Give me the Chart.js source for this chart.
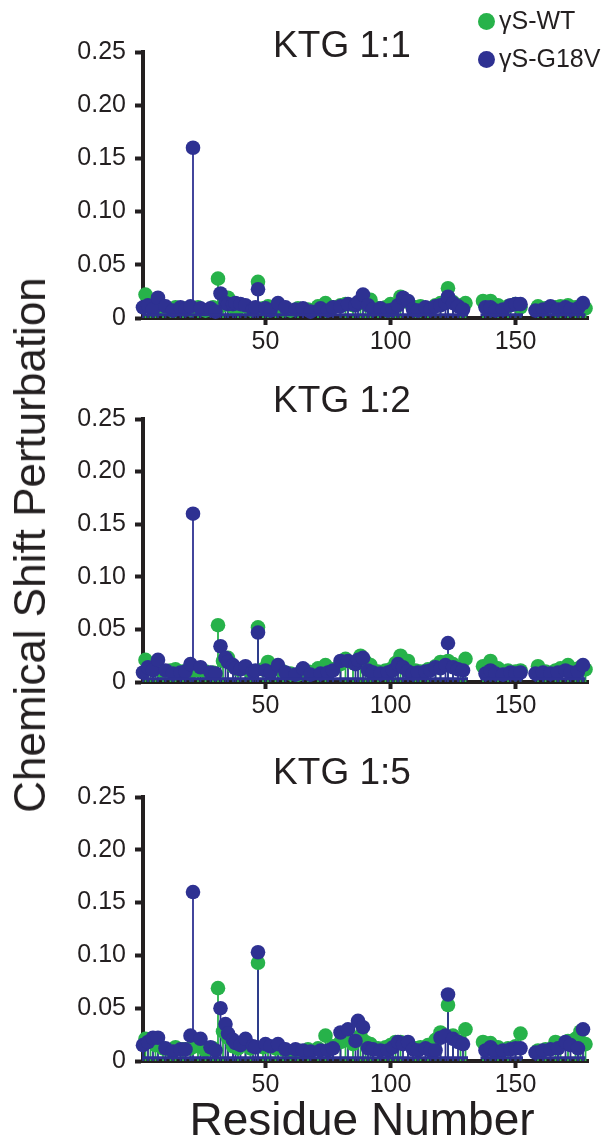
<!DOCTYPE html>
<html>
<head>
<meta charset="utf-8">
<script src="https://cdn.jsdelivr.net/npm/chart.js@4.4.1/dist/chart.umd.min.js"></script>
<style>
    body { margin: 0; background: #fff; width: 615px; height: 1145px; position: relative; overflow: hidden;
           font-family: "Liberation Sans", Arial, sans-serif; color: #231f20; }
    canvas { position: absolute; left: 0; }
    .panel-title { position: absolute; left: 222px; width: 240px; text-align: center; font-size: 37px; line-height: 37px; }
    .legend { position: absolute; left: 478px; font-size: 25px; line-height: 25px; white-space: nowrap; }
    .legend span { display: inline-block; width: 17px; height: 17px; border-radius: 50%; margin-right: 4px; vertical-align: -1px; }
    #ytitle { position: absolute; left: 30px; top: 545px; transform: translate(-50%, -50%) rotate(-90deg);
              font-size: 44px; white-space: nowrap; }
    #xtitle { position: absolute; left: 362px; top: 1119px; transform: translate(-50%, -50%);
              font-size: 46px; white-space: nowrap; }
</style>
</head>
<body>
<canvas id="plot1"></canvas>
<canvas id="plot2"></canvas>
<canvas id="plot3"></canvas>
<div class="panel-title" id="title1" style="top:26px"></div>
<div class="panel-title" id="title2" style="top:381px"></div>
<div class="panel-title" id="title3" style="top:753px"></div>
<div class="legend" style="top:8px"><span style="background:#27b24a"></span>γS-WT</div>
<div class="legend" style="top:46px"><span style="background:#2e3192"></span>γS-G18V</div>
<div id="ytitle">Chemical Shift Perturbation</div>
<div id="xtitle">Residue Number</div>

<script>
// assigned residues for each protein (same for every titration point)
var residuesWT = [2, 4, 6, 9, 12, 14, 17, 20, 23, 26, 29, 31, 33, 35, 37, 39, 42, 44, 47, 49,
    51, 54, 57, 60, 63, 67, 71, 74, 77, 80, 82, 85, 88, 90, 92, 95, 98, 100, 102, 104,
    107, 110, 112, 115, 118, 120, 123, 125, 128, 130, 137, 140, 143, 147, 150, 152, 159, 162, 166, 168,
    171, 174, 176, 178];
var residuesG18V = [1, 3, 5, 7, 10, 13, 16, 18, 20, 21, 24, 28, 30, 32, 34, 35, 37, 38, 40, 42,
    45, 46, 47, 50, 52, 55, 58, 62, 65, 68, 72, 75, 77, 80, 83, 86, 87, 89, 91, 93,
    96, 99, 101, 103, 105, 107, 109, 111, 114, 116, 118, 120, 122, 123, 125, 127, 129, 138, 140, 142,
    145, 148, 150, 152, 158, 161, 164, 167, 170, 172, 175, 177];

// KTG 1:1
var wt11 = [0.022, 0.012, 0.009, 0.010, 0.008, 0.010, 0.009, 0.008, 0.010, 0.007, 0.010, 0.037, 0.012, 0.019, 0.010, 0.009, 0.011, 0.008, 0.034, 0.009,
    0.011, 0.010, 0.008, 0.007, 0.009, 0.008, 0.011, 0.014, 0.010, 0.012, 0.013, 0.012, 0.015, 0.013, 0.017, 0.009, 0.010, 0.013, 0.012, 0.020,
    0.015, 0.010, 0.011, 0.009, 0.012, 0.014, 0.028, 0.015, 0.012, 0.014, 0.016, 0.016, 0.012, 0.011, 0.013, 0.010, 0.011, 0.009, 0.010, 0.011,
    0.012, 0.010, 0.011, 0.009];
var g18v11 = [0.010, 0.012, 0.008, 0.019, 0.011, 0.007, 0.010, 0.008, 0.011, 0.160, 0.009, 0.009, 0.006, 0.023, 0.014, 0.013, 0.013, 0.014, 0.013, 0.012,
    0.008, 0.010, 0.027, 0.009, 0.007, 0.014, 0.010, 0.008, 0.009, 0.006, 0.009, 0.007, 0.010, 0.011, 0.013, 0.012, 0.015, 0.022, 0.012, 0.008,
    0.009, 0.007, 0.008, 0.012, 0.019, 0.016, 0.008, 0.007, 0.010, 0.008, 0.011, 0.012, 0.014, 0.020, 0.014, 0.011, 0.008, 0.010, 0.010, 0.007,
    0.008, 0.012, 0.013, 0.013, 0.007, 0.008, 0.011, 0.008, 0.010, 0.008, 0.009, 0.014];

// KTG 1:2
var wt12 = [0.021, 0.016, 0.012, 0.010, 0.011, 0.012, 0.010, 0.009, 0.011, 0.010, 0.009, 0.054, 0.020, 0.023, 0.015, 0.012, 0.013, 0.010, 0.052, 0.012,
    0.019, 0.013, 0.010, 0.008, 0.007, 0.010, 0.013, 0.016, 0.012, 0.017, 0.022, 0.018, 0.025, 0.019, 0.016, 0.010, 0.011, 0.012, 0.018, 0.025,
    0.020, 0.011, 0.010, 0.012, 0.015, 0.019, 0.020, 0.017, 0.013, 0.022, 0.015, 0.020, 0.013, 0.011, 0.010, 0.011, 0.015, 0.010, 0.011, 0.013,
    0.016, 0.012, 0.014, 0.012];
var g18v12 = [0.009, 0.014, 0.011, 0.021, 0.011, 0.008, 0.009, 0.010, 0.017, 0.160, 0.014, 0.009, 0.008, 0.034, 0.023, 0.019, 0.016, 0.013, 0.012, 0.015,
    0.010, 0.011, 0.047, 0.011, 0.009, 0.016, 0.009, 0.007, 0.013, 0.007, 0.008, 0.009, 0.011, 0.020, 0.020, 0.017, 0.021, 0.023, 0.011, 0.009,
    0.008, 0.009, 0.011, 0.017, 0.014, 0.010, 0.008, 0.009, 0.010, 0.011, 0.014, 0.013, 0.016, 0.037, 0.014, 0.012, 0.011, 0.008, 0.011, 0.008,
    0.007, 0.009, 0.008, 0.009, 0.008, 0.009, 0.008, 0.009, 0.011, 0.009, 0.010, 0.016];

// KTG 1:5
var wt15 = [0.021, 0.018, 0.015, 0.012, 0.010, 0.013, 0.011, 0.012, 0.014, 0.010, 0.012, 0.069, 0.028, 0.022, 0.014, 0.012, 0.015, 0.012, 0.093, 0.013,
    0.014, 0.012, 0.011, 0.009, 0.010, 0.011, 0.012, 0.024, 0.014, 0.018, 0.020, 0.016, 0.024, 0.018, 0.016, 0.012, 0.013, 0.015, 0.018, 0.018,
    0.017, 0.012, 0.013, 0.015, 0.020, 0.027, 0.053, 0.024, 0.018, 0.030, 0.018, 0.017, 0.013, 0.012, 0.014, 0.026, 0.010, 0.011, 0.018, 0.016,
    0.019, 0.021, 0.028, 0.016];
var g18v15 = [0.015, 0.018, 0.022, 0.022, 0.012, 0.009, 0.011, 0.011, 0.024, 0.160, 0.021, 0.013, 0.010, 0.050, 0.035, 0.026, 0.020, 0.017, 0.015, 0.021,
    0.014, 0.013, 0.103, 0.016, 0.014, 0.016, 0.011, 0.011, 0.010, 0.009, 0.010, 0.010, 0.012, 0.027, 0.030, 0.019, 0.038, 0.032, 0.012, 0.011,
    0.010, 0.010, 0.013, 0.018, 0.016, 0.018, 0.011, 0.010, 0.012, 0.010, 0.010, 0.022, 0.024, 0.063, 0.021, 0.018, 0.016, 0.010, 0.013, 0.009,
    0.010, 0.011, 0.012, 0.012, 0.008, 0.010, 0.011, 0.012, 0.018, 0.015, 0.012, 0.030];

// stretches of assigned residues, drawn as the blue baseline
var baselineRuns = [[1, 131], [136, 153], [157, 178]];
var baselineLevel = 0.003;

var panelTitles = ['KTG 1:1', 'KTG 1:2', 'KTG 1:5'];
var xTickValues = [50, 100, 150];
var yTickValues = [0, 0.05, 0.10, 0.15, 0.20, 0.25];
var yTickLabels = ['0', '0.05', '0.10', '0.15', '0.20', '0.25'];

var green = '#27b24a';
var blue = '#2e3192';
var ink = '#231f20';

function toPoints(residues, values) {
    var pts = [];
    for (var i = 0; i < residues.length; i++) {
        pts.push({x: residues[i], y: values[i]});
    }
    return pts;
}

function baselinePoints() {
    var pts = [];
    baselineRuns.forEach(function(run, i) {
        if (i > 0) pts.push({x: run[0] - 0.5, y: null});
        pts.push({x: run[0], y: baselineLevel});
        pts.push({x: run[1], y: baselineLevel});
    });
    return pts;
}

// vertical stems from zero up to each marker
var stemPlugin = {
    id: 'stems',
    beforeDatasetsDraw: function(chart) {
        var ctx = chart.ctx;
        var zeroY = chart.scales.y.getPixelForValue(0);
        [1, 2].forEach(function(i) {
            var ds = chart.data.datasets[i];
            var meta = chart.getDatasetMeta(i);
            ctx.save();
            ctx.strokeStyle = ds.backgroundColor;
            ctx.lineWidth = 1.8;
            meta.data.forEach(function(pt) {
                ctx.beginPath();
                ctx.moveTo(pt.x, zeroY);
                ctx.lineTo(pt.x, pt.y);
                ctx.stroke();
            });
            ctx.restore();
        });
    }
};

var tickFont = {family: '"Liberation Sans", Arial, sans-serif', size: 25};

function makePanel(canvasId, plotTop, plotBottom, wtValues, g18vValues) {
    var padTop = 16;
    var axisHeight = 42;
    var canvas = document.getElementById(canvasId);
    canvas.width = 615;
    canvas.height = plotBottom - plotTop + padTop + axisHeight;
    canvas.style.top = (plotTop - padTop) + 'px';

    return new Chart(canvas, {
        type: 'scatter',
        data: {
            datasets: [{
                type: 'line',
                data: baselinePoints(),
                borderColor: blue,
                borderWidth: 3,
                pointRadius: 0,
                spanGaps: false,
                order: 0
            }, {
                label: 'γS-WT',
                data: toPoints(residuesWT, wtValues),
                backgroundColor: green,
                borderWidth: 0,
                pointRadius: 7.3,
                order: 2
            }, {
                label: 'γS-G18V',
                data: toPoints(residuesG18V, g18vValues),
                backgroundColor: blue,
                borderWidth: 0,
                pointRadius: 7.3,
                order: 1
            }]
        },
        options: {
            responsive: false,
            animation: false,
            devicePixelRatio: 1,
            clip: false,
            events: [],
            layout: {padding: {top: padTop, right: 27, left: 0, bottom: 0}},
            plugins: {legend: {display: false}, tooltip: {enabled: false}},
            scales: {
                x: {
                    type: 'linear',
                    min: 1,
                    max: 179,
                    afterFit: function(scale) { scale.height = axisHeight; },
                    afterBuildTicks: function(scale) {
                        scale.ticks = xTickValues.map(function(v) { return {value: v}; });
                    },
                    grid: {drawOnChartArea: false, tickLength: 7, tickWidth: 4, tickColor: ink},
                    border: {display: true, width: 4, color: ink},
                    ticks: {font: tickFont, color: ink, padding: 2, maxRotation: 0}
                },
                y: {
                    min: 0,
                    max: 0.25,
                    afterFit: function(scale) { scale.width = 143; },
                    afterBuildTicks: function(scale) {
                        scale.ticks = yTickValues.map(function(v) { return {value: v}; });
                    },
                    grid: {drawOnChartArea: false, tickLength: 8, tickWidth: 4, tickColor: ink},
                    border: {display: true, width: 4, color: ink},
                    ticks: {
                        font: tickFont, color: ink, padding: 9,
                        callback: function(value, index) { return yTickLabels[index]; }
                    }
                }
            }
        },
        plugins: [stemPlugin]
    });
}

panelTitles.forEach(function(t, i) {
    document.getElementById('title' + (i + 1)).textContent = t;
});

makePanel('plot1', 44, 318, wt11, g18v11);
makePanel('plot2', 411, 682, wt12, g18v12);
makePanel('plot3', 789, 1061, wt15, g18v15);
</script>
</body>
</html>
